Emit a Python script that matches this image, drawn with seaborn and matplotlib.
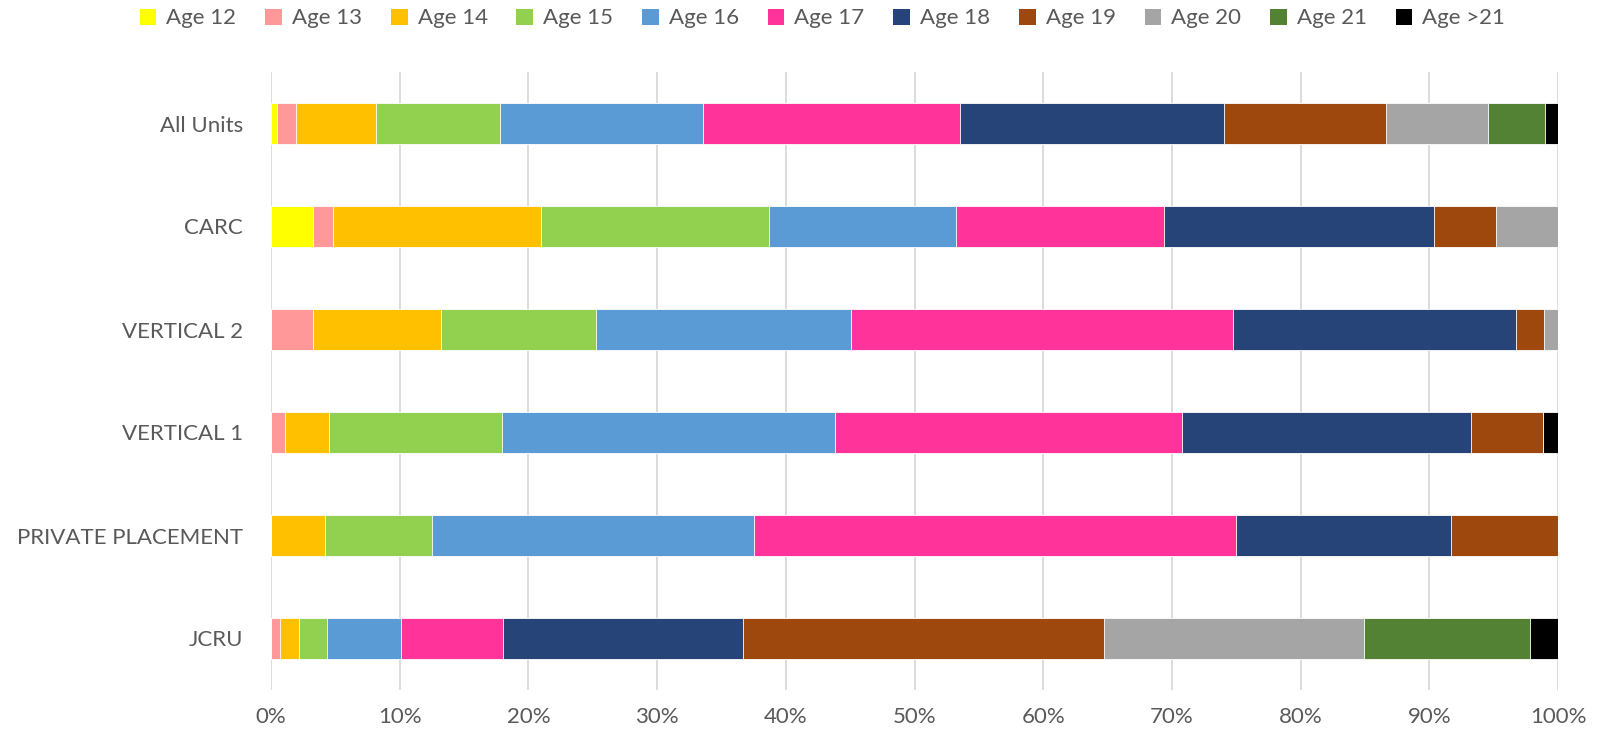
import matplotlib
matplotlib.use("Agg")
import matplotlib.pyplot as plt
from matplotlib.patches import Patch
import numpy as np
import pandas as pd
import seaborn as sns

# ---- data (percent of youth per unit, by age) ----
units = ["All Units", "CARC", "VERTICAL 2", "VERTICAL 1", "PRIVATE PLACEMENT", "JCRU"]
ages = ["Age 12", "Age 13", "Age 14", "Age 15", "Age 16", "Age 17",
        "Age 18", "Age 19", "Age 20", "Age 21", "Age >21"]

all_units = [0.49, 1.48, 6.17, 9.63, 15.80, 20.00, 20.49, 12.59, 7.90, 4.44, 0.99]
carc = [3.23, 1.61, 16.13, 17.74, 14.52, 16.13, 20.97, 4.84, 4.84, 0.0, 0.0]
vertical_2 = [0.0, 3.30, 9.89, 12.09, 19.78, 29.67, 21.98, 2.20, 1.10, 0.0, 0.0]
vertical_1 = [0.0, 1.12, 3.37, 13.48, 25.84, 26.97, 22.47, 5.62, 0.0, 0.0, 1.12]
private_placement = [0.0, 0.0, 4.17, 8.33, 25.00, 37.50, 16.67, 8.33, 0.0, 0.0, 0.0]
jcru = [0.0, 0.72, 1.44, 2.16, 5.76, 7.91, 18.71, 28.06, 20.14, 12.95, 2.16]

x_ticks = [0, 10, 20, 30, 40, 50, 60, 70, 80, 90, 100]
x_tick_labels = ["0%", "10%", "20%", "30%", "40%", "50%", "60%", "70%", "80%", "90%", "100%"]

colors = ["#FFFF00", "#FF9999", "#FFC000", "#92D050", "#5B9BD5", "#FF3399",
          "#264478", "#9E480E", "#A5A5A5", "#548235", "#000000"]

rows = [all_units, carc, vertical_2, vertical_1, private_placement, jcru]
df = pd.DataFrame(rows, index=units, columns=ages)
cum = df.cumsum(axis=1)

sns.set_theme(style="white")
plt.rcParams["font.family"] = ["Lato", "DejaVu Sans"]

fig = plt.figure(figsize=(16.16, 7.38), dpi=100)
ax = fig.add_axes([271 / 1616, 1 - 690 / 738, (1558 - 271) / 1616, (690 - 72) / 738])

# draw from the rightmost cumulative segment back to the first so each overlays the previous
for i in range(len(ages) - 1, -1, -1):
    d = pd.DataFrame({"unit": units, "value": cum[ages[i]].values})
    sns.barplot(data=d, x="value", y="unit", order=units, color=colors[i],
                orient="h", width=0.40, edgecolor="white", linewidth=0.6,
                saturation=1, ax=ax, zorder=3)

ax.set_xlim(0, 100)
ax.set_ylim(5.5, -0.5)
ax.set_xticks(x_ticks)
ax.set_xticklabels(x_tick_labels)
ax.set_xlabel("")
ax.set_ylabel("")
ax.grid(axis="x", color="#D9D9D9", linewidth=1.3, zorder=0)
ax.grid(axis="y", visible=False)
for s in ax.spines.values():
    s.set_visible(False)
ax.tick_params(axis="x", length=0, pad=12, labelsize=16, labelcolor="#595959")
ax.tick_params(axis="y", length=0, pad=20, labelsize=16, labelcolor="#595959")

handles = [Patch(facecolor=c, edgecolor="none") for c in colors]
fig.legend(handles, ages, loc="center", bbox_to_anchor=(0.509, 0.975), ncol=11,
           frameon=False, handlelength=0.75, handleheight=0.75, handletextpad=0.45,
           columnspacing=1.3, fontsize=16, labelcolor="#595959")

fig.savefig("out.png", dpi=100)
